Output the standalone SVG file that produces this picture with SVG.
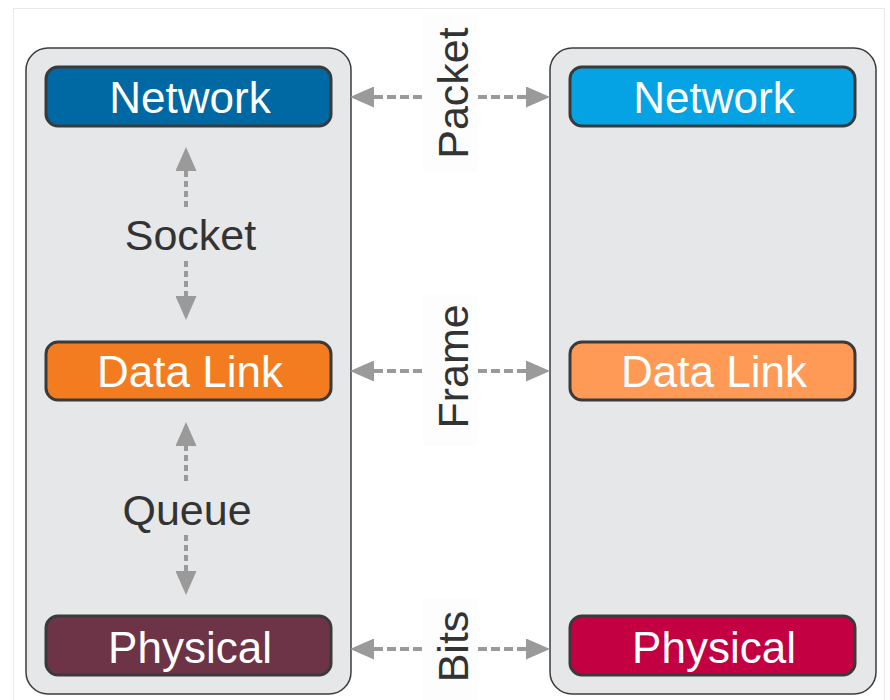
<svg xmlns="http://www.w3.org/2000/svg" width="890" height="700" viewBox="0 0 890 700">
  <style>
    .frame { fill: #ffffff; stroke: #e9e9e9; stroke-width: 1; }
    .panel { fill: #e6e7e8; stroke: #3c3c3c; stroke-width: 1.5; }
    .layer { stroke: #3a3a3a; stroke-width: 3; }
    .layer-text { font-family: "Liberation Sans", Arial, sans-serif; font-size: 44px; fill: #ffffff; text-anchor: middle; }
    .label { font-family: "Liberation Sans", Arial, sans-serif; font-size: 43px; fill: #333333; text-anchor: middle; }
    .label-bg { fill: #fdfdfd; }
    .link { fill: none; stroke: #9a9a9a; stroke-width: 4; stroke-dasharray: 9 4; }
    .vlink { fill: none; stroke: #9a9a9a; stroke-width: 4; stroke-dasharray: 6 4; }
  </style>
  <defs>
    <marker id="head" markerUnits="userSpaceOnUse" viewBox="0 0 24 21" markerWidth="24" markerHeight="21" refX="0" refY="10.5" orient="auto-start-reverse">
      <path d="M0,0 L24,10.5 L0,21 Z" fill="#9a9a9a"/>
    </marker>
  </defs>

  <!-- page frame -->
  <rect class="frame" x="13.5" y="8.5" width="871" height="700"/>

  <!-- host panels -->
  <g id="host-left">
    <rect class="panel" x="26" y="48" width="325" height="646" rx="22"/>
  </g>
  <g id="host-right">
    <rect class="panel" x="550" y="48" width="326" height="646" rx="22"/>
  </g>

  <!-- connectors -->
  <g id="connectors">
    <line class="link" x1="374" y1="97" x2="526" y2="97" marker-start="url(#head)" marker-end="url(#head)"/>
    <line class="link" x1="374" y1="371" x2="526" y2="371" marker-start="url(#head)" marker-end="url(#head)"/>
    <line class="link" x1="374" y1="649" x2="526" y2="649" marker-start="url(#head)" marker-end="url(#head)"/>
    <line class="vlink" x1="186" y1="207" x2="186" y2="171" marker-end="url(#head)"/>
    <line class="vlink" x1="186" y1="261" x2="186" y2="296" marker-end="url(#head)"/>
    <line class="vlink" x1="186" y1="481" x2="186" y2="446" marker-end="url(#head)"/>
    <line class="vlink" x1="186" y1="535" x2="186" y2="571" marker-end="url(#head)"/>
  </g>

  <!-- connector labels, each on a backdrop that hides the line beneath -->
  <g id="labels">
    <rect class="label-bg" x="423" y="15" width="54" height="158"/>
    <rect class="label-bg" x="423" y="295" width="54" height="151"/>
    <rect class="label-bg" x="423" y="598" width="54" height="102"/>
    <text class="label" transform="translate(468,93) rotate(-90)">Packet</text>
    <text class="label" transform="translate(468,366.5) rotate(-90)">Frame</text>
    <text class="label" transform="translate(468,646.5) rotate(-90)">Bits</text>
    <text class="label" x="190.5" y="250">Socket</text>
    <text class="label" x="187" y="525">Queue</text>
  </g>

  <!-- left host layers -->
  <g id="network-left">
    <rect class="layer" x="46" y="67" width="285" height="59" rx="12" fill="#0069a3"/>
    <text class="layer-text" x="190" y="113">Network</text>
  </g>
  <g id="datalink-left">
    <rect class="layer" x="46" y="342" width="285" height="58" rx="12" fill="#f37c21"/>
    <text class="layer-text" x="190" y="387">Data Link</text>
  </g>
  <g id="physical-left">
    <rect class="layer" x="46" y="616" width="285" height="59" rx="12" fill="#6d3447"/>
    <text class="layer-text" x="190" y="663">Physical</text>
  </g>

  <!-- right host layers -->
  <g id="network-right">
    <rect class="layer" x="570" y="67" width="285" height="59" rx="12" fill="#05a3e3"/>
    <text class="layer-text" x="714" y="113">Network</text>
  </g>
  <g id="datalink-right">
    <rect class="layer" x="570" y="342" width="285" height="58" rx="12" fill="#fe9a55"/>
    <text class="layer-text" x="714" y="387">Data Link</text>
  </g>
  <g id="physical-right">
    <rect class="layer" x="570" y="616" width="285" height="59" rx="12" fill="#c20042"/>
    <text class="layer-text" x="714" y="663">Physical</text>
  </g>
</svg>
